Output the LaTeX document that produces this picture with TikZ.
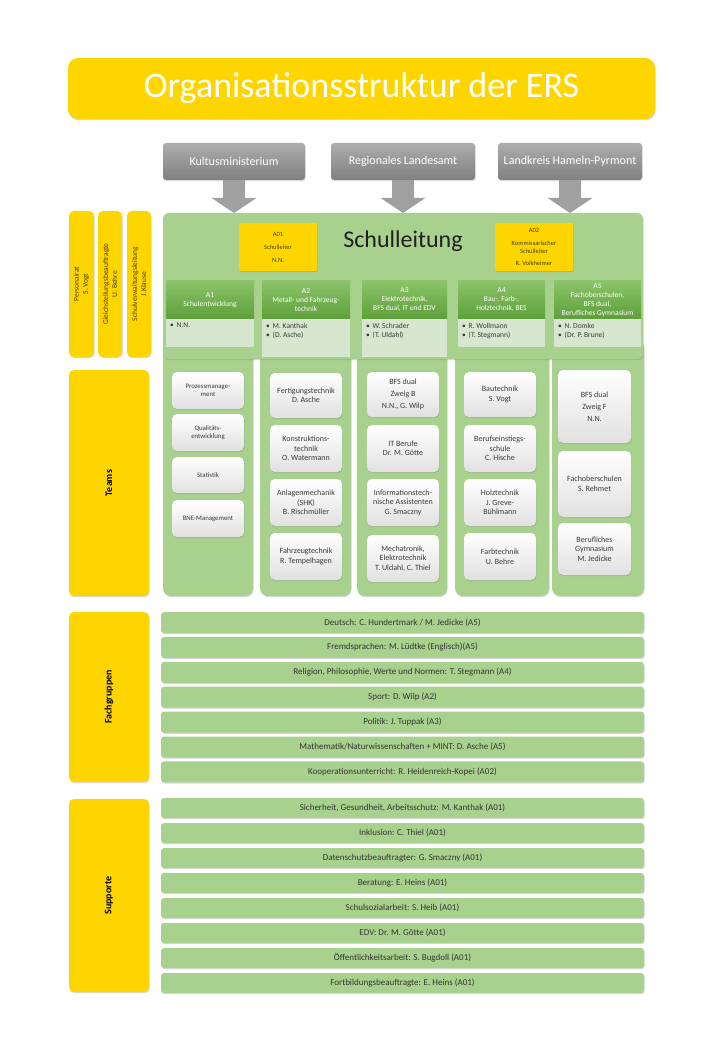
\documentclass[tikz,border=0pt]{standalone}
\usepackage{fontspec}
\setmainfont{Carlito}
\usetikzlibrary{shadows,arrows.meta,calc}
\definecolor{yel}{HTML}{FFD500}
\definecolor{grn}{HTML}{A9D18E}
\definecolor{hdtop}{HTML}{8BC36A}
\definecolor{hdbot}{HTML}{5E9F3A}
\definecolor{bodyc}{HTML}{D7E6CF}
\definecolor{gtop}{HTML}{ADADAD}
\definecolor{gbot}{HTML}{808080}
\definecolor{ytext}{HTML}{4F3F00}
\definecolor{ttext}{HTML}{3A3A3A}
\definecolor{arrowc}{HTML}{A0A0A0}
\newcommand\rbox[7]{\node[#6,minimum width={(#4)-(#2)},minimum height={(#5)-(#3)}] (#1) at ({((#2)+(#4))/2},{((#3)+(#5))/2}) {#7};}
\newcommand\ubox[7]{\node[#6,rotate=90,minimum width={(#5)-(#3)},minimum height={(#4)-(#2)}] (#1) at ({((#2)+(#4))/2},{((#3)+(#5))/2}) {#7};}
\newcommand\fs[2]{\fontsize{#1}{#2}\selectfont}
\tikzset{
 base/.style={inner sep=0pt,outer sep=0pt,align=center},
 dshadow/.style={drop shadow={shadow xshift=0.7pt,shadow yshift=-1.2pt,opacity=0.3}},
 titlebox/.style={base,fill=yel,rounded corners=10pt,dshadow,text=white,font={\fs{36}{40}}},
 gbox/.style={base,top color=gtop,bottom color=gbot,rounded corners=3pt,dshadow,text=white,font={\fs{12}{14}}},
 ybox/.style={base,fill=yel,rounded corners=1pt,dshadow,text=ytext,font={\fs{6.5}{8}}},
 mainbox/.style={base,fill=grn,rounded corners=6pt,dshadow},
 colbox/.style={base,fill=grn,rounded corners=8pt,dshadow},
 hdr/.style={base,top color=hdtop,bottom color=hdbot,text=white,font={\fs{7.5}{9}}},
 bodyb/.style={base,fill=bodyc},
 btext/.style={base,align=left,text=ttext,font={\fs{7.5}{9.5}}},
 tbox/.style={base,top color=white,middle color=white,bottom color=black!12,rounded corners=5pt,dshadow,text=ttext,font={\fs{8}{9.5}}},
 tboxs/.style={tbox,font={\fs{6.8}{8}}},
 lbar/.style={base,fill=yel,rounded corners=5pt,dshadow,text=ytext,font={\fs{7.5}{9}}},
 sbar/.style={lbar,text=black,font={\fs{10}{12}\bfseries}},
 gbar/.style={base,fill=grn,rounded corners=3pt,dshadow,text=black!80,font={\fs{9}{10}}},
 barrow/.style={line width=22pt,draw=arrowc,-{Triangle[width=44pt,length=15pt]}},
}
\begin{document}
\begin{tikzpicture}[x=1pt,y=-1pt]
\useasboundingbox[fill=white] (0,0) rectangle (720,1040);
% title
\rbox{title}{68}{58}{655}{119}{titlebox}{Organisationsstruktur der ERS}
% authorities
\rbox{km}{163}{143}{305}{180}{gbox}{Kultusministerium}
\rbox{rl}{331}{143}{475}{180}{gbox}{Regionales Landesamt}
\rbox{lk}{498}{143}{642}{180}{gbox}{Landkreis Hameln-Pyrmont}
% team columns (under main box)
\rbox{c1}{163}{340}{253}{596}{colbox}{}
\rbox{c2}{260}{340}{351}{596}{colbox}{}
\rbox{c3}{357}{340}{447}{596}{colbox}{}
\rbox{c4}{455}{340}{549}{596}{colbox}{}
\rbox{c5}{552}{340}{644}{596}{colbox}{}
% Schulleitung
\rbox{sl}{163}{213}{643}{359}{mainbox}{}
\draw[barrow] (km.south) -- (km.south |- sl.north);
\draw[barrow] (rl.south) -- (rl.south |- sl.north);
\draw[barrow] (lk.south) -- (lk.south |- sl.north);
\node[base,font={\fs{24}{28}},text=black!88] (sltext) at (403,241) {Schulleitung};
\rbox{a01}{239}{223}{317}{271}{ybox}{A01\\[5pt]Schulleiter\\[5pt]N.N.}
\rbox{a02}{495}{223}{573}{271}{ybox}{A02\\[5pt]Kommissarischer\\Schulleiter\\[4pt]R. Volkheimer}
% A headers
\rbox{a1h}{166}{281}{254}{319}{hdr}{A1\\Schulentwicklung}
\rbox{a2h}{262}{281}{350}{319}{hdr}{A2\\Metall- und Fahrzeug-\\technik}
\rbox{a3h}{362}{281}{447}{319}{hdr}{A3\\Elektrotechnik,\\BFS dual, IT und EDV}
\rbox{a4h}{458}{281}{545}{319}{hdr}{A4\\Bau-, Farb-,\\Holztechnik, BES}
\rbox{a5h}{554}{281}{641}{319}{hdr}{A5\\Fachoberschulen,\\BFS dual,\\Berufliches Gymnasium}
\rbox{a1b}{166}{319}{254}{347}{bodyb}{}
\rbox{a2b}{262}{319}{350}{357}{bodyb}{}
\rbox{a3b}{362}{319}{447}{357}{bodyb}{}
\rbox{a4b}{458}{319}{545}{347}{bodyb}{}
\rbox{a5b}{554}{319}{641}{347}{bodyb}{}
\node[btext,anchor=north west] (a1t) at ($(a1b.north west)+(4,4)$) {•\hspace{3pt}N.N.};
\node[btext,anchor=north west] (a2t) at ($(a2b.north west)+(4,4)$) {•\hspace{3pt}M. Kanthak\\•\hspace{3pt}(D. Asche)};
\node[btext,anchor=north west] (a3t) at ($(a3b.north west)+(4,4)$) {•\hspace{3pt}W. Schrader\\•\hspace{3pt}(T. Uldahl)};
\node[btext,anchor=north west] (a4t) at ($(a4b.north west)+(4,4)$) {•\hspace{3pt}R. Wollmann\\•\hspace{3pt}(T. Stegmann)};
\node[btext,anchor=north west] (a5t) at ($(a5b.north west)+(4,4)$) {•\hspace{3pt}N. Domke\\•\hspace{3pt}(Dr. P. Brune)};
% left bars
\ubox{pr}{69}{211}{94}{357}{lbar}{Personalrat\\S. Vogt}
\ubox{gb}{98}{211}{122}{357}{lbar}{Gleichstellungsbeauftragte\\U. Behre}
\ubox{sv}{127}{211}{151}{357}{lbar}{Schulverwaltungsleitung\\J.Klause}
\ubox{teams}{69}{370}{149}{596}{sbar}{Teams}
\ubox{fgl}{69}{612}{149}{782}{sbar}{Fachgruppen}
\ubox{sup}{69}{799}{149}{992}{sbar}{Supporte}
% team boxes
\rbox{t11}{172}{372}{244}{409}{tboxs}{Prozessmanage-\\ment}
\rbox{t12}{172}{414}{244}{451}{tboxs}{Qualitäts-\\entwicklung}
\rbox{t13}{172}{457}{244}{493}{tboxs}{Statistik}
\rbox{t14}{172}{500}{244}{537}{tboxs}{BNE-Management}
\rbox{t21}{270}{373}{342}{418}{tbox}{Fertigungstechnik\\D. Asche}
\rbox{t22}{270}{425}{342}{472}{tbox}{Konstruktions-\\technik\\O. Watermann}
\rbox{t23}{270}{479}{342}{526}{tbox}{Anlagenmechanik\\(SHK)\\B. Rischmüller}
\rbox{t24}{270}{533}{342}{580}{tbox}{Fahrzeugtechnik\\R. Tempelhagen}
\rbox{t31}{367}{372}{439}{417}{tbox}{BFS dual\\[2.5pt]Zweig B\\[2.5pt]N.N., G. Wilp}
\rbox{t32}{367}{425}{439}{472}{tbox}{IT Berufe\\Dr. M. Götte}
\rbox{t33}{367}{479}{439}{526}{tbox}{Informationstech-\\nische Assistenten\\G. Smaczny}
\rbox{t34}{367}{535}{439}{582}{tbox}{Mechatronik,\\Elektrotechnik\\T. Uldahl, C. Thiel}
\rbox{t41}{464}{372}{536}{417}{tbox}{Bautechnik\\S. Vogt}
\rbox{t42}{464}{425}{536}{472}{tbox}{Berufseinstiegs-\\schule\\C. Hische}
\rbox{t43}{464}{479}{536}{526}{tbox}{Holztechnik\\J. Greve-\\Bühlmann}
\rbox{t44}{464}{533}{536}{580}{tbox}{Farbtechnik\\U. Behre}
\rbox{t51}{558}{370}{631}{443}{tbox}{BFS dual\\[2.5pt]Zweig F\\[2.5pt]N.N.}
\rbox{t52}{558}{451}{631}{517}{tbox}{Fachoberschulen\\S. Rehmet}
\rbox{t53}{558}{523}{631}{575}{tbox}{Berufliches\\Gymnasium\\M. Jedicke}
% Fachgruppen
\foreach \t [count=\i from 0] in {Deutsch: C. Hundertmark / M. Jedicke (A5), Fremdsprachen: M. Lüdtke (Englisch)(A5), {Religion, Philosophie, Werte und Normen: T. Stegmann (A4)}, Sport: D. Wilp (A2), Politik: J. Tuppak (A3), Mathematik/Naturwissenschaften + MINT: D. Asche (A5), Kooperationsunterricht: R. Heidenreich-Kopei (A02)}
  {\rbox{fg\i}{161}{612+24.9*\i}{644}{633+24.9*\i}{gbar}{\t}}
% Supporte
\foreach \t [count=\i from 0] in {{Sicherheit, Gesundheit, Arbeitsschutz: M. Kanthak (A01)}, Inklusion: C. Thiel (A01), Datenschutzbeauftragter: G. Smaczny (A01), Beratung: E. Heins (A01), Schulsozialarbeit: S. Heib (A01), EDV: Dr. M. Götte (A01), Öffentlichkeitsarbeit: S. Bugdoll (A01), Fortbildungsbeauftragte: E. Heins (A01)}
  {\rbox{sp\i}{161}{798+25*\i}{644}{818+25*\i}{gbar}{\t}}
\end{tikzpicture}
\end{document}
